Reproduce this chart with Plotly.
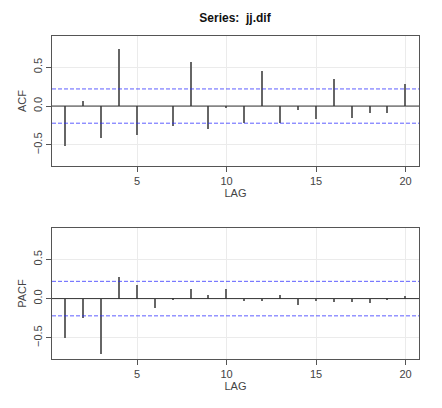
import plotly.graph_objects as go
from plotly.subplots import make_subplots

lags = list(range(1, 21))
acf_vals = [-0.51, 0.07, -0.41, 0.73, -0.37, 0.00, -0.25, 0.56, -0.29, -0.02,
            -0.22, 0.45, -0.22, -0.05, -0.16, 0.35, -0.15, -0.09, -0.09, 0.28]
pacf_vals = [-0.50, -0.25, -0.71, 0.27, 0.17, -0.12, -0.02, 0.12, 0.05, 0.12,
             -0.03, -0.03, 0.05, -0.08, -0.03, -0.04, -0.04, -0.06, -0.02, 0.03]
conf = 0.22
y_ticks = [-0.5, 0.0, 0.5]
x_ticks = [5, 10, 15, 20]

lab_font = dict(size=11, color='#444444', family='Liberation Sans, Arial')

fig = make_subplots(rows=2, cols=1, vertical_spacing=0.19)

for row, vals in [(1, acf_vals), (2, pacf_vals)]:
    fig.add_trace(go.Bar(x=lags, y=vals, width=0.08, marker=dict(color='#666666', line=dict(width=0)),
                         showlegend=False), row=row, col=1)
    for c in (conf, -conf):
        fig.add_hline(y=c, line=dict(color='rgba(40,40,255,0.75)', width=1, dash='4px,2px'), row=row, col=1)
    fig.add_hline(y=0, line=dict(color='#333333', width=1), row=row, col=1)

axis_common = dict(showline=True, mirror=True, linecolor='#555555', linewidth=1,
                   ticks='outside', ticklen=5, tickcolor='#555555', automargin=False,
                   gridcolor='#ebebeb', gridwidth=1, zeroline=False,
                   tickfont=lab_font)

fig.update_xaxes(range=[0.25, 20.75], tickvals=x_ticks, **axis_common,
                 title=dict(text='LAG', standoff=3, font=lab_font))
fig.update_yaxes(range=[-0.77, 0.9], tickvals=y_ticks, tickformat='.1f', tickangle=-90, **axis_common)
fig.update_yaxes(title=dict(text='ACF', standoff=2, font=lab_font), row=1, col=1)
fig.update_yaxes(title=dict(text='PACF', standoff=2, font=lab_font), row=2, col=1)

# page body adds an 8px margin, so the figure is a bit smaller than the window
fig.update_layout(
    width=434, height=400,
    margin=dict(l=44, r=23, t=28, b=49, autoexpand=False),
    plot_bgcolor='white', paper_bgcolor='white',
    bargap=0,
    title=dict(text='<b>Series:  jj.dif</b>', x=0.523, xanchor='center', y=0.975, yanchor='middle',
               font=dict(size=12, color='#111111', family='Liberation Sans, Arial')),
)
fig.update_layout(yaxis=dict(domain=[0.5975, 1.0]), yaxis2=dict(domain=[0.0, 0.4056]))

fig.write_html("out.html")
